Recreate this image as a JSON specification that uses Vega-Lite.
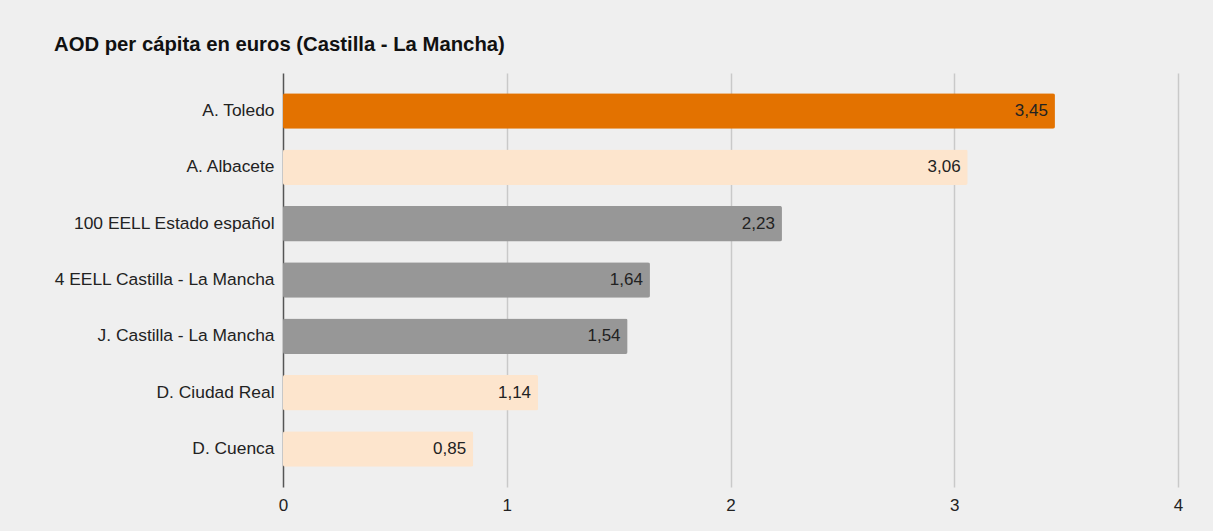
{
  "$schema": "https://vega.github.io/schema/vega-lite/v6.json",
  "width": 895,
  "height": 414,
  "autosize": {"type": "none"},
  "padding": {"left": 283, "top": 73, "right": 35, "bottom": 44},
  "background": "#efefef",
  "config": {
    "font": "Liberation Sans",
    "view": {"stroke": null},
    "locale": {"number": {"decimal": ",", "thousands": ".", "grouping": [3], "currency": ["", " €"]}}
  },
  "title": {
    "text": "AOD per cápita en euros (Castilla - La Mancha)",
    "anchor": "start",
    "frame": "group",
    "dx": -229,
    "offset": 18,
    "fontSize": 20.3,
    "fontWeight": "bold",
    "color": "#111111"
  },
  "data": {
    "values": [
      {"entidad": "A. Toledo", "valor": 3.45, "tipo": "destacado"},
      {"entidad": "A. Albacete", "valor": 3.06, "tipo": "provincia"},
      {"entidad": "100 EELL Estado español", "valor": 2.23, "tipo": "referencia"},
      {"entidad": "4 EELL Castilla - La Mancha", "valor": 1.64, "tipo": "referencia"},
      {"entidad": "J. Castilla - La Mancha", "valor": 1.54, "tipo": "referencia"},
      {"entidad": "D. Ciudad Real", "valor": 1.14, "tipo": "provincia"},
      {"entidad": "D. Cuenca", "valor": 0.85, "tipo": "provincia"}
    ]
  },
  "encoding": {
    "y": {
      "field": "entidad",
      "type": "nominal",
      "sort": null,
      "title": null,
      "scale": {"paddingInner": 0.37, "paddingOuter": 0.36},
      "axis": {"ticks": false, "domain": false, "labelFontSize": 17.4, "labelColor": "#222222", "labelPadding": 9, "labelLimit": 300}
    },
    "x": {
      "field": "valor",
      "type": "quantitative",
      "title": null,
      "scale": {"domain": [0, 4], "nice": false},
      "axis": {
        "values": [0, 1, 2, 3, 4],
        "format": "d",
        "ticks": false,
        "domain": false,
        "labelFlush": false,
        "labelFontSize": 17,
        "labelColor": "#222222",
        "labelPadding": 10,
        "gridColor": {"condition": {"test": "datum.value === 0", "value": "#555555"}, "value": "#c9c9c9"},
        "gridWidth": 1.5
      }
    }
  },
  "layer": [
    {
      "mark": {"type": "bar", "cornerRadius": 2},
      "encoding": {
        "color": {
          "field": "tipo",
          "type": "nominal",
          "legend": null,
          "scale": {"domain": ["destacado", "provincia", "referencia"], "range": ["#e37200", "#fde5cd", "#979797"]}
        }
      }
    },
    {
      "mark": {"type": "text", "align": "right", "baseline": "middle", "dx": -7, "fontSize": 17, "color": "#222222"},
      "encoding": {
        "text": {"field": "valor", "type": "quantitative", "format": ".2f"}
      }
    }
  ]
}
